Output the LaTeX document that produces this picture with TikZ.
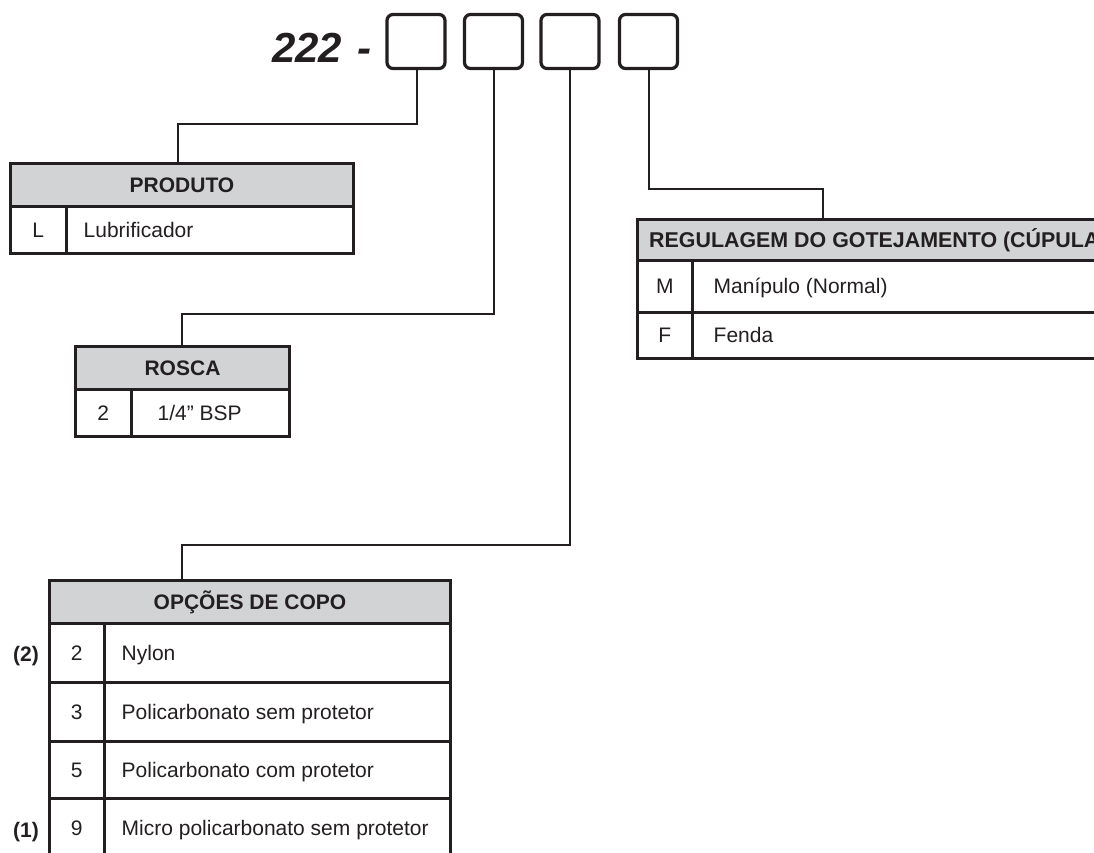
\documentclass[tikz,border=0pt]{standalone}
\usepackage{fontspec}
\setmainfont{Liberation Sans}
\definecolor{ink}{HTML}{231F20}
\definecolor{hdr}{HTML}{D1D3D4}
\begin{document}
\begin{tikzpicture}[x=1pt,y=-1pt,
  every node/.style={text=ink},
  codebox/.style={draw=ink, line width=3.2pt, rounded corners=6pt, minimum width=58pt, minimum height=54pt, inner sep=0pt},
  link/.style={draw=ink, line width=2pt},
  tcell/.style={draw=ink, line width=3pt, inner sep=0pt, text height=15pt, text depth=0pt, font=\fontsize{21}{25}\selectfont},
  hcell/.style={tcell, fill=hdr, font=\fontsize{21}{25}\selectfont\bfseries},
  ttext/.style={anchor=west, inner sep=0pt, text height=15pt, text depth=0pt, font=\fontsize{21}{25}\selectfont},
  note/.style={inner sep=0pt, text height=15pt, text depth=0pt, font=\fontsize{21}{25}\selectfont\bfseries},
]
\useasboundingbox (0,0) rectangle (1094,853);
\clip (0,0) rectangle (1094,853);

% title code
\node[anchor=base west, inner sep=0pt, font=\fontsize{42}{46}\selectfont\bfseries\itshape] (code) at (272,63) {222\hspace{15pt}-};
\node[codebox] (b1) at (416,41.5) {};
\node[codebox] (b2) at (493.5,41.5) {};
\node[codebox] (b3) at (570,41.5) {};
\node[codebox] (b4) at (648.5,41.5) {};

% PRODUTO
\node[hcell, minimum width=343pt, minimum height=42.5pt] (ph) at (182,184.75) {PRODUTO};
\node[tcell, minimum width=55.5pt, minimum height=47.5pt] (pc1) at (38.25,229.75) {L};
\node[tcell, minimum width=287.5pt, minimum height=47.5pt] (pd1) at (209.75,229.75) {};
\node[ttext] (pt1) at ([xshift=19pt]pd1.west) {Lubrificador};

% ROSCA
\node[hcell, minimum width=214pt, minimum height=42.5pt] (rh) at (182.5,367.75) {ROSCA};
\node[tcell, minimum width=55.5pt, minimum height=47.5pt] (rc1) at (103.25,412.75) {2};
\node[tcell, minimum width=158.5pt, minimum height=47.5pt] (rd1) at (210.25,412.75) {};
\node[ttext] (rt1) at ([xshift=28pt]rd1.west) {1/4” BSP};

% REGULAGEM
\node[hcell, minimum width=472.5pt, minimum height=40.5pt] (gh) at (873.75,239.75) {};
\node[ttext, font=\fontsize{21.4}{25}\selectfont\bfseries] (ght) at (649,239.75) {REGULAGEM DO GOTEJAMENTO (CÚPULA};
\node[tcell, minimum width=54.5pt, minimum height=52pt] (gc1) at (664.75,286) {M};
\node[tcell, minimum width=418pt, minimum height=52pt] (gd1) at (901,286) {};
\node[ttext] (gt1) at ([xshift=23pt]gd1.west) {Manípulo (Normal)};
\node[tcell, minimum width=54.5pt, minimum height=46.5pt] (gc2) at (664.75,335.25) {F};
\node[tcell, minimum width=418pt, minimum height=46.5pt] (gd2) at (901,335.25) {};
\node[ttext] (gt2) at ([xshift=23pt]gd2.west) {Fenda};

% OPCOES DE COPO
\node[hcell, minimum width=401pt, minimum height=42.5pt] (oh) at (250,601.75) {OPÇÕES DE COPO};
\node[tcell, minimum width=54.5pt, minimum height=59pt] (oc1) at (76.75,652.5) {2};
\node[tcell, minimum width=346.5pt, minimum height=59pt] (od1) at (277.25,652.5) {};
\node[ttext] (ot1) at ([xshift=19pt]od1.west) {Nylon};
\node[tcell, minimum width=54.5pt, minimum height=59pt] (oc2) at (76.75,711.5) {3};
\node[tcell, minimum width=346.5pt, minimum height=59pt] (od2) at (277.25,711.5) {};
\node[ttext] (ot2) at ([xshift=19pt]od2.west) {Policarbonato sem protetor};
\node[tcell, minimum width=54.5pt, minimum height=57pt] (oc3) at (76.75,769.5) {5};
\node[tcell, minimum width=346.5pt, minimum height=57pt] (od3) at (277.25,769.5) {};
\node[ttext] (ot3) at ([xshift=19pt]od3.west) {Policarbonato com protetor};
\node[tcell, minimum width=54.5pt, minimum height=59pt] (oc4) at (76.75,827.5) {9};
\node[tcell, minimum width=346.5pt, minimum height=59pt] (od4) at (277.25,827.5) {};
\node[ttext] (ot4) at ([xshift=19pt]od4.west) {Micro policarbonato sem protetor};
\node[note] (n2) at (26,654) {(2)};
\node[note] (n1) at (26,830) {(1)};

% connectors
\coordinate (j1) at (178,124);
\coordinate (j2) at (182,314);
\coordinate (j3) at (182,545);
\coordinate (j4) at (823,189);
\draw[link] ([xshift=1pt]b1.south) |- (j1) -- (j1 |- ph.north);
\draw[link] (b2.south) |- (j2) -- (j2 |- rh.north);
\draw[link] (b3.south) |- (j3) -- (j3 |- oh.north);
\draw[link] (b4.south) |- (j4) -- (j4 |- gh.north);
\end{tikzpicture}
\end{document}
